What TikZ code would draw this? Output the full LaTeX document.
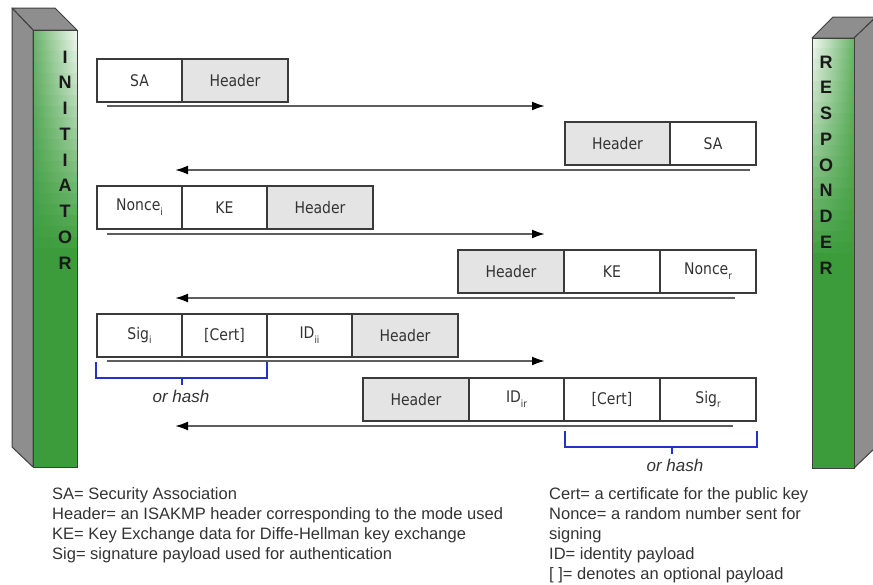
\documentclass[tikz,border=0pt]{standalone}
\usepackage{fontspec}
\setmainfont{Liberation Sans}
\newfontfamily\boxfont[FakeStretch=0.875]{DejaVu Sans}
\usetikzlibrary{arrows.meta}
\definecolor{gbase}{HTML}{3C9C3C}
\definecolor{pgray}{HTML}{8E8E8E}
\definecolor{pline}{HTML}{404040}
\definecolor{cellline}{HTML}{3A3A3A}
\definecolor{hdrfill}{HTML}{E4E4E4}
\definecolor{txt}{HTML}{333333}
\definecolor{arrowgray}{HTML}{5E5E5E}
\definecolor{brblue}{HTML}{2233CC}
\newcommand\lowsub[1]{\raisebox{-0.55ex}{\fontsize{10}{10}\selectfont #1}}
\tikzset{
  cell/.style={draw=cellline, line width=1.1pt, minimum height=43pt, inner sep=0pt, outer sep=0pt,
    anchor=north west, font=\boxfont\fontsize{16}{18}\selectfont, text=txt},
  hdr/.style={cell, fill=hdrfill},
  msg/.style={draw=arrowgray, line width=2pt, -{Latex[length=13pt,width=9pt,color=black]}},
  bracket/.style={draw=brblue, line width=2.2pt},
  hashlbl/.style={font=\fontsize{17}{20}\selectfont\itshape, text=txt},
  pillarletter/.style={font=\fontsize{18}{20}\selectfont\bfseries, text=black!90},
  legend/.style={anchor=base west, inner sep=0pt, font=\fontsize{16.5}{20}\selectfont, text=txt},
  side/.style={fill=pgray, draw=pline, line width=1pt, line join=round},
}
\begin{document}
\begin{tikzpicture}[x=1pt,y=-1pt]
\useasboundingbox (0,0) rectangle (873,584);

% ---------- Initiator pillar ----------
\draw[side] (12,8) -- (55,8) -- (77,30) -- (33,30) -- cycle;
\draw[side] (12,8) -- (33,30) -- (33,467) -- (12,447) -- cycle;
\foreach \k in {0,...,39}{
  \pgfmathsetmacro\ya{30+10.925*\k}
  \pgfmathsetmacro\yb{\ya+11.5}
  \pgfmathtruncatemacro\L{max(0,92*(1-\k/20))}
  \pgfmathtruncatemacro\Ll{\L/4}
  \shade[left color=white!\Ll!gbase, right color=white!\L!gbase] (33,\ya) rectangle (77,\yb);
}
\draw[pline, line width=1pt] (33,30) rectangle (77,467);

% ---------- Responder pillar ----------
\draw[side] (812,38) -- (833,17) -- (876,17) -- (854,38) -- cycle;
\draw[side] (854,38) -- (876,17) -- (876,447) -- (854,468) -- cycle;
\foreach \k in {0,...,39}{
  \pgfmathsetmacro\ya{38+10.75*\k}
  \pgfmathsetmacro\yb{\ya+11.3}
  \pgfmathtruncatemacro\L{max(0,92*(1-\k/20))}
  \pgfmathtruncatemacro\Ll{\L/4}
  \shade[left color=white!\L!gbase, right color=white!\Ll!gbase] (812,\ya) rectangle (854,\yb);
}
\draw[pline, line width=1pt] (812,38) rectangle (854,468);

\foreach \c [count=\i from 0] in {I,N,I,T,I,A,T,O,R}
  \node[pillarletter] (ini\i) at (65,{57+25.75*\i}) {\c};
\foreach \c [count=\i from 0] in {R,E,S,P,O,N,D,E,R}
  \node[pillarletter] (res\i) at (826,{62+25.75*\i}) {\c};

% ---------- Message 1 ----------
\node[cell, minimum width=85pt] (m1sa) at (97,59) {SA};
\node[hdr, minimum width=106pt] (m1hd) at (182,59) {Header};
\coordinate (a1s) at (107,106);
\coordinate (a1e) at (545,106);
\draw[msg] (a1s) -- (a1e);

% ---------- Message 2 ----------
\node[hdr, minimum width=105pt] (m2hd) at (565,122) {Header};
\node[cell, minimum width=86pt] (m2sa) at (670,122) {SA};
\coordinate (a2s) at (750,170);
\coordinate (a2e) at (175,170);
\draw[msg] (a2s) -- (a2e);

% ---------- Message 3 ----------
\node[cell, minimum width=85pt] (m3no) at (97,186) {Nonce\lowsub{i}};
\node[cell, minimum width=85pt] (m3ke) at (182,186) {KE};
\node[hdr, minimum width=106pt] (m3hd) at (267,186) {Header};
\coordinate (a3s) at (107,234);
\coordinate (a3e) at (545,234);
\draw[msg] (a3s) -- (a3e);

% ---------- Message 4 ----------
\node[hdr, minimum width=106pt] (m4hd) at (458,250) {Header};
\node[cell, minimum width=96pt] (m4ke) at (564,250) {KE};
\node[cell, minimum width=96pt] (m4no) at (660,250) {Nonce\lowsub{r}};
\coordinate (a4s) at (735,298);
\coordinate (a4e) at (175,298);
\draw[msg] (a4s) -- (a4e);

% ---------- Message 5 ----------
\node[cell, minimum width=85pt] (m5sig) at (97,314) {Sig\lowsub{i}};
\node[cell, minimum width=85pt] (m5cert) at (182,314) {[Cert]};
\node[cell, minimum width=85pt] (m5id) at (267,314) {ID\lowsub{ii}};
\node[hdr, minimum width=106pt] (m5hd) at (352,314) {Header};
\coordinate (a5s) at (107,361);
\coordinate (a5e) at (545,361);
\draw[msg] (a5s) -- (a5e);
\draw[bracket] (96,362) -- (96,378) -- (267,378) -- (267,362);
\draw[bracket] (182,378) -- (182,385);
\node[hashlbl] (h1) at (181,396) {or hash};

% ---------- Message 6 ----------
\node[hdr, minimum width=106pt] (m6hd) at (363,378) {Header};
\node[cell, minimum width=95pt] (m6id) at (469,378) {ID\lowsub{ir}};
\node[cell, minimum width=96pt] (m6cert) at (564,378) {[Cert]};
\node[cell, minimum width=96pt] (m6sig) at (660,378) {Sig\lowsub{r}};
\coordinate (a6s) at (733,426);
\coordinate (a6e) at (175,426);
\draw[msg] (a6s) -- (a6e);
\draw[bracket] (565,431) -- (565,447) -- (757,447) -- (757,431);
\draw[bracket] (672,447) -- (672,454);
\node[hashlbl] (h2) at (675,465) {or hash};

% ---------- Legend ----------
\node[legend] (l1) at (52,499) {SA= Security Association};
\node[legend] (l2) at (52,519) {Header= an ISAKMP header corresponding to the mode used};
\node[legend] (l3) at (52,539) {KE= Key Exchange data for Diffe-Hellman key exchange};
\node[legend] (l4) at (52,559) {Sig= signature payload used for authentication};
\node[legend] (r1) at (549,499) {Cert= a certificate for the public key};
\node[legend] (r2) at (549,519) {Nonce= a random number sent for};
\node[legend] (r3) at (549,539) {signing};
\node[legend] (r4) at (549,559) {ID= identity payload};
\node[legend] (r5) at (549,579) {[ ]= denotes an optional payload};
\end{tikzpicture}
\end{document}
